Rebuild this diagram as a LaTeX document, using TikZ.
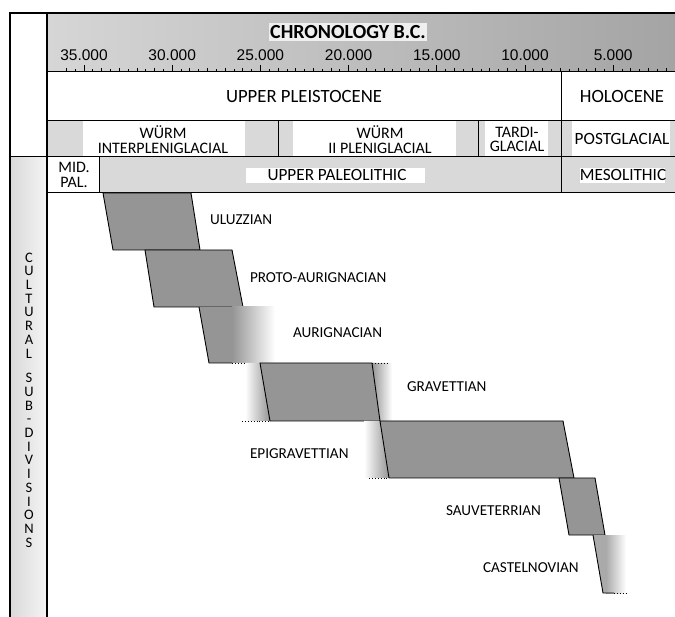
\documentclass[tikz,border=0pt]{standalone}
\usepackage{fontspec}
\setmainfont{Carlito}
\newfontfamily\numfont{Liberation Sans}
\usetikzlibrary{positioning,calc}
\definecolor{boxgray}{HTML}{959595}
\definecolor{bandgray}{HTML}{D9D9D9}
\definecolor{headlight}{HTML}{D6D6D6}
\definecolor{headdark}{HTML}{A4A4A4}

\begin{document}
\begin{tikzpicture}[
    x=1pt, y=-1pt,
    every node/.style={inner sep=0pt, outer sep=0pt},
    rowlabel/.style={font=\fontsize{17.2}{14.5}\selectfont, align=center},
    twoline/.style={font=\fontsize{16}{14.5}\selectfont, align=center},
    epochlabel/.style={font=\fontsize{18.7}{19}\selectfont},
    culture/.style={font=\fontsize{15.2}{16}\selectfont, anchor=west},
    yearlabel/.style={font=\numfont\fontsize{15.5}{16}\selectfont},
    frame/.style={line width=1.4pt},
    sep/.style={line width=1pt},
    period/.style={fill=boxgray},
    edge/.style={line width=0.9pt},
    trail/.style={line width=0.9pt, dotted},
]

\useasboundingbox (0,0) rectangle (675,617);
\fill[white] (0,0) rectangle (675,617);

% === Header: chronology ===
\shade[left color=headlight, right color=headdark] (47,13) rectangle (675,72);
\node[fill=white!60!headlight, inner xsep=1pt, inner ysep=2pt,
      font=\bfseries\fontsize{20}{20}\selectfont] (title) at (348,32) {CHRONOLOGY B.C.};

\foreach \k in {0,...,68} {
    \pgfmathsetmacro\h{ifthenelse(mod(\k,10)==2,7,ifthenelse(mod(\k,2)==0,4,2.5))}
    \draw[line width=0.8pt] ({66.4+8.82*\k},72) -- ++(0,-\h);
}
\foreach \yr [count=\i from 0] in {35.000,30.000,25.000,20.000,15.000,10.000,5.000}
    \node[yearlabel] (yr\i) at ({84+88.2*\i},55) {\yr};

% === Bands ===
\fill[bandgray] (47,121) rectangle (675,193);
\fill[white] (83,121) rectangle (245,157);
\fill[white] (293,121) rectangle (456,157);
\fill[white] (485,121) rectangle (548,157);
\fill[white] (572,121) rectangle (670,157);
\fill[white] (47,157) rectangle (99,193);
\fill[white] (246,168) rectangle (425,183);
\fill[white] (580,168) rectangle (665,183);

% left column
\shade[left color=black!15, right color=black!4] (10,157) rectangle (47,617);

% === Grid lines ===
\draw[frame] (10,617) -- (10,13) -- (675,13);
\draw[frame] (47,13) -- (47,617);
\draw[sep] (47,72) -- (675,72);
\draw[sep] (47,121) -- (675,121);
\draw[sep] (10,157) -- (675,157);
\draw[sep] (47,193) -- (675,193);
\draw[sep] (561,72) -- (561,193);
\draw[sep] (278,121) -- (278,157);
\draw[sep] (478,121) -- (478,157);
\draw[sep] (99,157) -- (99,193);

% === Period labels ===
\node[epochlabel] (pleist) at (304,97) {UPPER PLEISTOCENE};
\node[epochlabel] (holo) at (622,97) {HOLOCENE};
\node[twoline] (wurmi) at (163,139.5) {WÜRM\\INTERPLENIGLACIAL};
\node[twoline] (wurmii) at (380,139.5) {WÜRM\\II PLENIGLACIAL};
\node[twoline] (tardi) at (517,139.5) {TARDI-\\GLACIAL};
\node[rowlabel] (postgl) at (622,139) {POSTGLACIAL};
\node[twoline] (midpal) at (74,175) {MID.\\PAL.};
\node[rowlabel] (upal) at (337,175) {UPPER PALEOLITHIC};
\node[rowlabel] (meso) at (623,175) {MESOLITHIC};

\node[font=\fontsize{14.5}{13.7}\selectfont, align=center] (cultdiv) at (29,400)
    {C\\U\\L\\T\\U\\R\\A\\L\\[11pt]S\\U\\B\\-\\D\\I\\V\\I\\S\\I\\O\\N\\S};

% === Cultural sub-divisions ===
% Uluzzian
\filldraw[period, edge] (103,193) -- (191,193) -- (200,250) -- (113,250) -- cycle;
% Proto-Aurignacian
\filldraw[period, edge] (145,250) -- (232,250) -- (243,307) -- (154,307) -- cycle;
\draw[trail] (243,307) -- (269,307);
% Aurignacian
\fill[boxgray] (199,307) -- (209,363) -- (232,363) -- (232,307) -- cycle;
\shade[left color=boxgray, right color=white] (232,307) rectangle (275,363);
\draw[edge] (199,307) -- (209,363) -- (232,363);
\draw[trail] (232,363) -- (260,363);
% Gravettian
\shade[left color=white, right color=boxgray] (245,363) -- (260,363) -- (270,421) -- (245,421) -- cycle;
\shade[left color=boxgray, right color=white] (372,363) -- (392,363) -- (392,421) -- (380,421) -- cycle;
\filldraw[period, edge] (260,363) -- (372,363) -- (380,421) -- (270,421) -- cycle;
\draw[trail] (372,363) -- (388,363);
\draw[trail] (242,421) -- (270,421);
% Epigravettian
\shade[left color=white, right color=boxgray] (364,421) -- (380,421) -- (389,478) -- (364,478) -- cycle;
\filldraw[period, edge] (380,421) -- (563,421) -- (574,478) -- (389,478) -- cycle;
\draw[trail] (369,478) -- (389,478);
% Sauveterrian
\filldraw[period, edge] (559,478) -- (595,478) -- (605,535) -- (569,535) -- cycle;
\draw[trail] (605,535) -- (618,535);
% Castelnovian
\fill[boxgray!80] (593,535) -- (603,593) -- (606,593) -- (606,535) -- cycle;
\shade[left color=boxgray!80, right color=white] (606,535) rectangle (626,593);
\draw[edge] (593,535) -- (603,593) -- (614,593);
\draw[trail] (614,593) -- (628,593);

% culture names
\node[culture] (uluz) at (210,220) {ULUZZIAN};
\node[culture] (proto) at (250,278) {PROTO-AURIGNACIAN};
\node[culture] (aurig) at (293,333) {AURIGNACIAN};
\node[culture] (grav) at (407,387) {GRAVETTIAN};
\node[culture] (epigrav) at (250,454) {EPIGRAVETTIAN};
\node[culture] (sauv) at (446,511) {SAUVETERRIAN};
\node[culture] (castel) at (483,568) {CASTELNOVIAN};

\end{tikzpicture}
\end{document}
